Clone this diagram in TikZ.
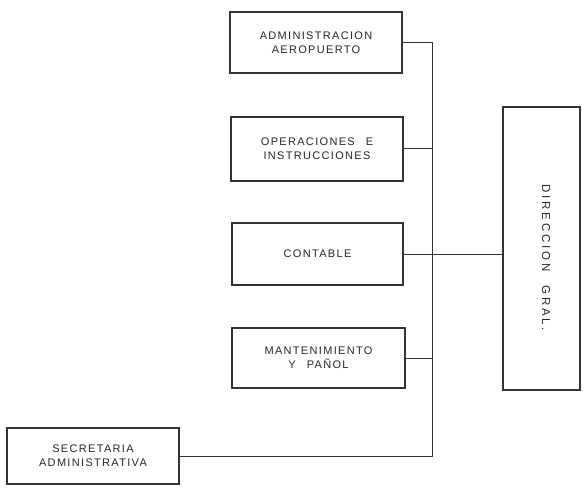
\documentclass[tikz,border=0pt]{standalone}
\usepackage{fontspec}
\setmainfont[LetterSpace=12]{Liberation Sans}
\newfontfamily\widefont[LetterSpace=24]{Liberation Sans}
\begin{document}
\begin{tikzpicture}[x=1pt,y=-1pt,
  unit/.style={draw=black!80, line width=1.6pt, text=black!85, align=center,
    font=\fontsize{11}{14}\selectfont, inner sep=0pt},
  link/.style={draw=black!80, line width=1pt}]
\useasboundingbox (0,0) rectangle (584,492);
\node[unit, minimum width=172pt, minimum height=61pt] (A) at (316,42.5) {ADMINISTRACION\\AEROPUERTO};
\node[unit, minimum width=172pt, minimum height=64pt] (B) at (317,149) {OPERACIONES\quad E\\INSTRUCCIONES};
\node[unit, minimum width=171pt, minimum height=62pt] (C) at (317.5,254) {CONTABLE};
\node[unit, minimum width=173pt, minimum height=60pt] (D) at (318.5,358) {MANTENIMIENTO\\Y\quad PAÑOL};
\node[unit, minimum width=172pt, minimum height=56pt] (S) at (93,456) {SECRETARIA\\ADMINISTRATIVA};
\node[unit, minimum width=77pt, minimum height=283pt] (G) at (541.5,248.5) {};
\node[text=black!85, font=\widefont\fontsize{11.5}{14}\selectfont, rotate=-90] (GT) at (546,258) {DIRECCION\hspace{14pt}GRAL.};
\coordinate (j) at (432,0);
\draw[link] (A.east) -| (j |- S.east) -- (S.east);
\draw[link] (B.east) -- (B.east -| j);
\draw[link] (C.east) -- (C.east -| G.west);
\draw[link] (D.east) -- (D.east -| j);
\end{tikzpicture}
\end{document}
